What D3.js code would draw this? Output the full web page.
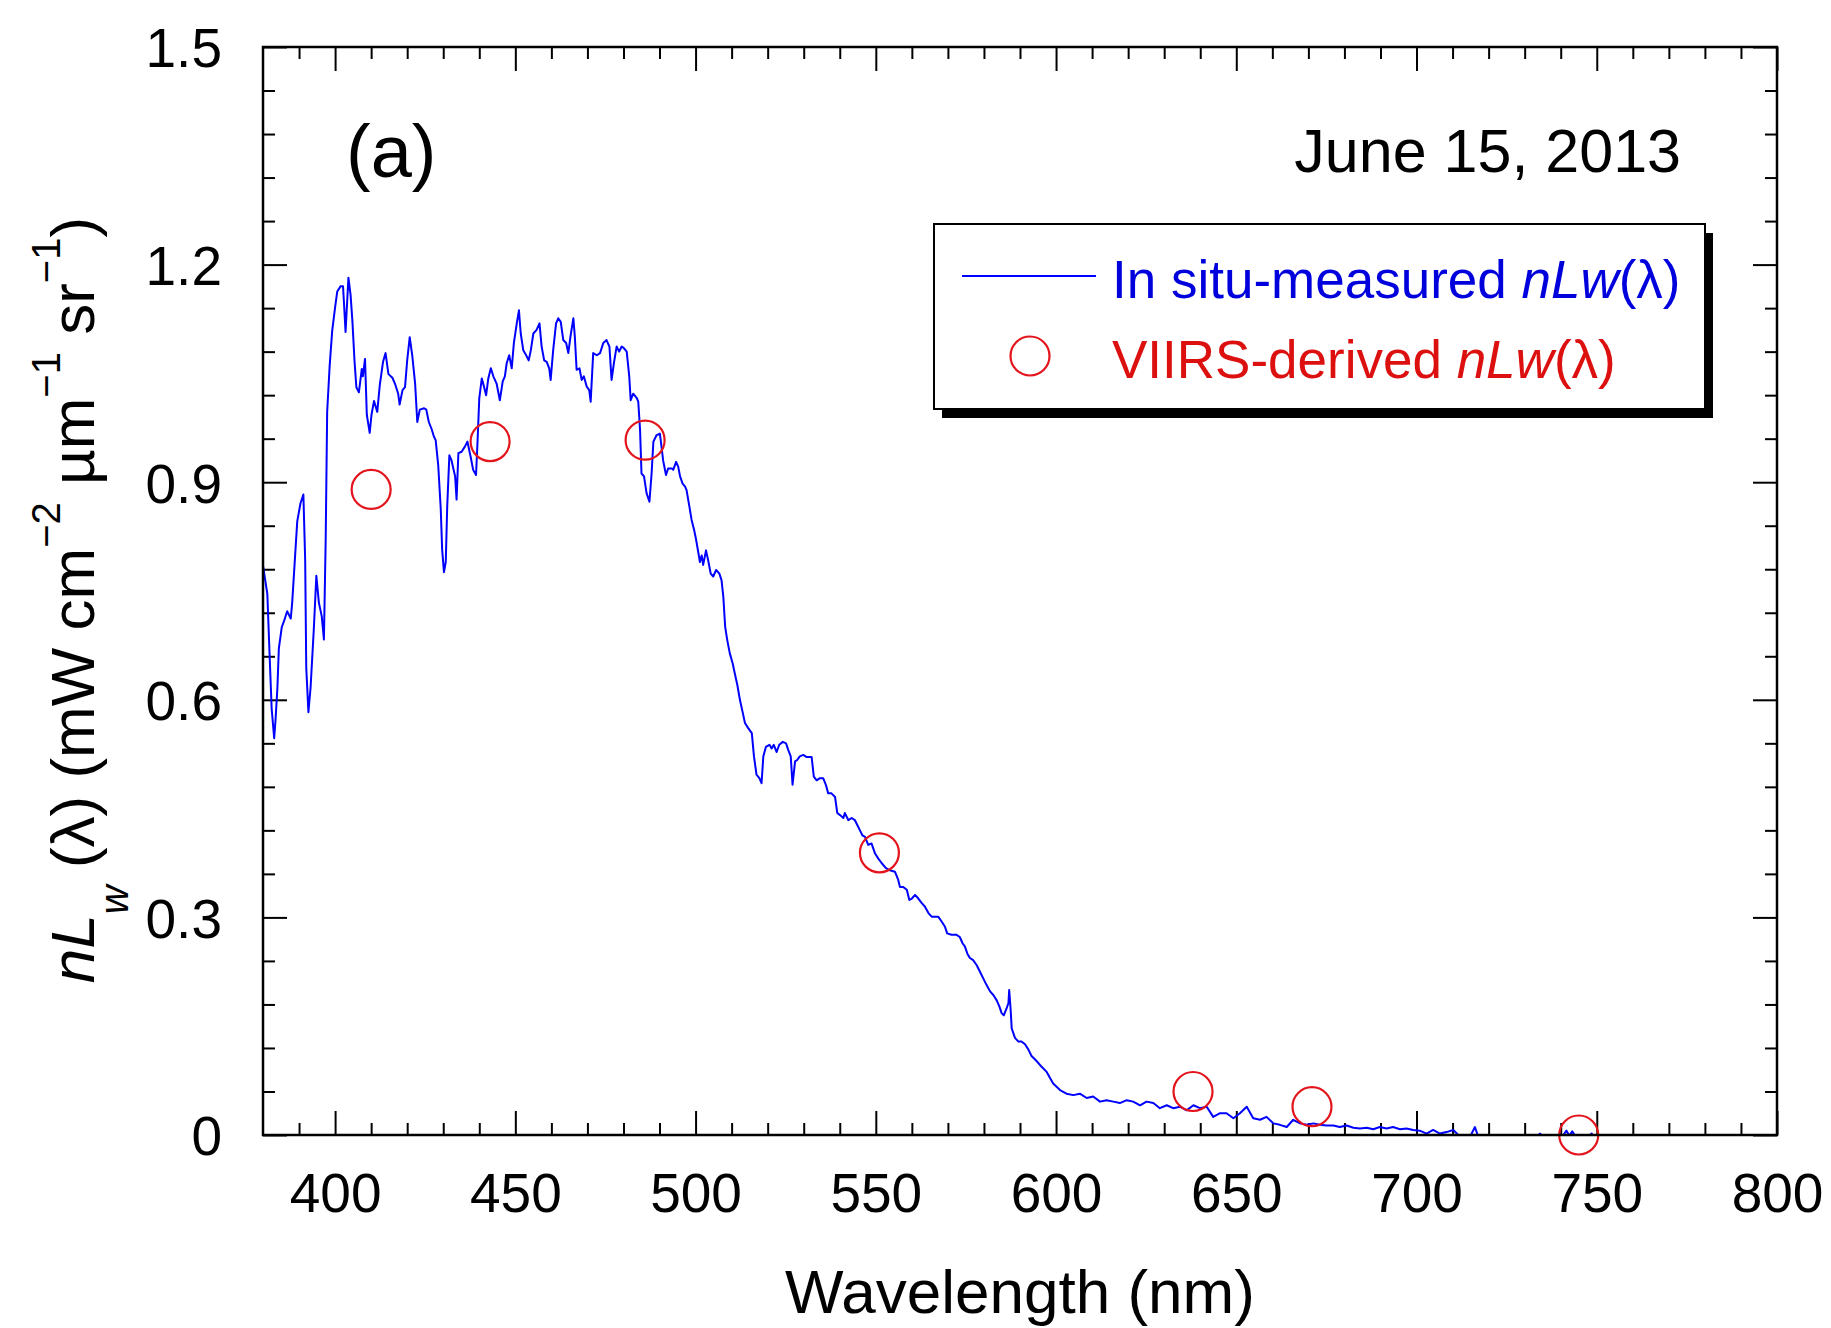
<!DOCTYPE html>
<meta charset="utf-8">
<script src="https://d3js.org/d3.v7.min.js"></script>
<style>
  body { margin: 0; background: #fff; }
  text { font-family: "Liberation Sans", Arial, Helvetica, sans-serif; }
</style>
<div id="chart"></div>
<script>

// in situ nLw spectrum (nm, mW cm-2 um-1 sr-1)
var wavelength = [
  380.0,381.2,381.8,382.4,383.1,383.5,384.0,384.4,385.2,385.8,386.7,387.7,388.1,388.9,389.5,390.4,
  391.2,391.7,392.0,392.6,393.2,394.1,394.8,395.5,396.3,396.9,397.4,397.8,398.5,399.2,400.0,400.6,
  401.5,402.2,402.5,402.9,403.7,404.3,404.8,405.4,405.9,406.6,407.4,407.7,408.3,408.8,409.6,410.1,
  410.8,411.7,412.4,413.3,414.0,414.8,415.9,416.6,417.5,417.9,418.7,419.4,420.0,420.7,421.4,422.2,
  422.8,423.5,424.7,425.3,426.0,426.8,427.4,427.9,428.6,429.3,429.7,430.2,430.7,431.1,431.7,432.3,
  433.3,433.7,434.2,435.1,436.0,436.7,437.6,438.3,439.1,439.5,440.0,440.7,441.3,441.9,442.5,443.2,
  443.9,444.8,445.7,446.5,447.1,447.6,448.3,449.0,449.6,450.4,451.0,451.5,452.2,453.0,453.7,454.3,
  455.0,455.9,456.7,457.3,458.0,458.7,459.4,459.8,460.5,461.3,461.9,462.6,463.3,464.1,464.7,465.3,
  466.1,466.5,467.0,467.8,468.4,469.0,469.8,470.5,470.9,471.6,472.6,473.5,474.4,475.3,476.1,476.7,
  477.4,478.1,478.8,479.5,480.1,480.9,481.6,482.0,482.7,483.7,484.1,484.6,485.0,485.7,486.4,487.2,
  487.8,488.3,489.2,490.1,490.6,491.0,491.8,492.4,493.4,493.8,494.6,495.2,495.7,496.4,497.1,497.5,
  498.3,498.9,499.6,500.1,500.8,501.2,501.7,502.1,502.9,503.5,504.2,504.9,505.7,506.6,507.2,507.7,
  508.2,508.8,509.5,510.3,510.9,511.6,512.3,513.1,513.7,514.6,515.6,516.2,516.9,517.7,518.3,518.8,
  519.5,520.5,521.1,521.7,522.5,523.2,524.2,525.1,525.7,526.4,526.9,527.6,528.2,528.9,529.9,530.8,
  532.2,532.8,533.6,534.5,535.4,536.2,536.8,537.7,538.7,539.3,540.1,541.0,541.4,542.4,543.3,544.2,
  544.9,545.6,546.3,547.0,547.9,548.8,549.8,550.7,551.6,552.8,553.9,555.3,556.2,556.7,557.6,558.6,
  559.3,560.0,560.9,561.8,562.7,563.6,564.6,565.5,566.4,567.3,568.3,569.2,569.8,571.0,572.4,573.3,
  574.1,574.7,575.4,576.1,577.0,578.0,578.9,579.8,580.7,581.7,582.6,583.5,584.3,584.9,585.5,586.3,
  586.8,587.0,587.4,587.7,588.6,589.5,590.4,591.4,592.3,593.2,594.6,596.0,597.4,599.2,601.1,602.9,
  604.8,606.6,608.5,610.3,612.2,614.0,615.9,617.7,619.6,621.4,623.3,625.1,627.0,628.8,630.7,632.5,
  634.4,636.2,638.1,639.9,641.8,643.6,645.5,647.3,649.2,651.0,652.9,654.7,656.6,658.4,660.3,662.1,
  664.0,665.8,667.7,669.5,671.4,673.2,675.0,676.9,678.7,680.6,682.5,684.3,686.2,688.0,689.8,691.7,
  693.5,695.4,697.2,699.1,700.9,702.8,704.6,706.5,708.3,710.2,712.0,714.8,716.2,717.1,719.5,722.0,
  725.0,728.0,731.0,733.6,734.3,735.0,738.0,740.6,741.6,742.4,743.2,744.2,746.5,748.6,749.5
];
var nlwInSitu = [
  0.785,0.746,0.666,0.588,0.547,0.574,0.617,0.671,0.700,0.708,0.722,0.712,0.734,0.798,0.846,0.871,
  0.883,0.793,0.644,0.583,0.617,0.698,0.771,0.734,0.715,0.683,0.824,0.997,1.061,1.109,1.141,1.163,
  1.170,1.170,1.144,1.107,1.182,1.158,1.122,1.066,1.031,1.024,1.056,1.046,1.070,0.993,0.968,0.993,
  1.012,0.997,1.034,1.066,1.078,1.049,1.044,1.036,1.022,1.007,1.027,1.031,1.068,1.100,1.075,1.036,
  0.983,1.000,1.002,1.000,0.983,0.973,0.963,0.958,0.924,0.864,0.807,0.776,0.790,0.866,0.937,0.930,
  0.908,0.876,0.940,0.942,0.949,0.956,0.935,0.917,0.910,0.954,1.016,1.043,1.032,1.020,1.043,1.057,
  1.046,1.036,1.013,1.039,1.046,1.064,1.075,1.057,1.092,1.119,1.137,1.105,1.082,1.075,1.068,1.082,
  1.105,1.110,1.119,1.087,1.068,1.066,1.057,1.041,1.082,1.119,1.126,1.121,1.096,1.092,1.078,1.101,
  1.126,1.101,1.055,1.057,1.041,1.046,1.032,1.027,1.011,1.078,1.075,1.078,1.092,1.096,1.087,1.041,
  1.066,1.087,1.080,1.087,1.085,1.080,1.046,1.013,1.022,1.016,1.011,0.972,0.912,0.908,0.885,0.873,
  0.912,0.956,0.965,0.967,0.947,0.930,0.910,0.919,0.919,0.917,0.928,0.921,0.908,0.898,0.894,0.889,
  0.866,0.848,0.834,0.822,0.802,0.790,0.799,0.786,0.806,0.792,0.774,0.770,0.779,0.774,0.765,0.742,
  0.701,0.682,0.664,0.650,0.636,0.620,0.600,0.582,0.568,0.561,0.554,0.522,0.497,0.492,0.485,0.522,
  0.535,0.538,0.533,0.538,0.528,0.538,0.542,0.540,0.531,0.522,0.483,0.515,0.517,0.522,0.524,0.521,
  0.521,0.494,0.489,0.492,0.492,0.482,0.471,0.471,0.466,0.444,0.441,0.437,0.444,0.434,0.437,0.434,
  0.427,0.420,0.413,0.411,0.400,0.402,0.388,0.381,0.375,0.368,0.365,0.363,0.352,0.342,0.342,0.338,
  0.324,0.326,0.331,0.326,0.320,0.315,0.306,0.301,0.301,0.301,0.294,0.287,0.278,0.276,0.276,0.273,
  0.264,0.260,0.250,0.244,0.241,0.234,0.225,0.216,0.207,0.198,0.193,0.186,0.177,0.168,0.165,0.175,
  0.182,0.200,0.173,0.147,0.134,0.129,0.129,0.125,0.118,0.109,0.102,0.094,0.087,0.071,0.062,0.057,
  0.055,0.057,0.051,0.053,0.046,0.048,0.046,0.044,0.048,0.046,0.041,0.046,0.044,0.037,0.041,0.037,
  0.039,0.034,0.041,0.037,0.039,0.025,0.030,0.030,0.023,0.030,0.039,0.023,0.021,0.025,0.016,0.014,
  0.011,0.021,0.016,0.014,0.016,0.014,0.013,0.013,0.011,0.013,0.010,0.009,0.010,0.008,0.011,0.009,
  0.011,0.008,0.009,0.007,0.006,0.002,0.007,0.002,0.004,0.007,-0.002,-0.003,0.011,-0.002,-0.006,-0.004,
  -0.007,-0.005,-0.006,-0.001,0.002,-0.003,-0.006,-0.001,0.006,-0.001,0.005,-0.003,-0.008,0.002,-0.006
];

// VIIRS-derived nLw at the band centres
var viirsBand = [410, 443, 486, 551, 638, 671, 745];
var viirsNlw  = [0.890, 0.956, 0.958, 0.389, 0.060, 0.039, 0.000];

// axis ticks
var xMajor = [400, 450, 500, 550, 600, 650, 700, 750, 800];
var xMinor = [390, 410, 420, 430, 440, 460, 470, 480, 490, 510, 520, 530, 540, 560, 570, 580, 590,
              610, 620, 630, 640, 660, 670, 680, 690, 710, 720, 730, 740, 760, 770, 780, 790];
var yMajor = [0, 0.3, 0.6, 0.9, 1.2, 1.5];
var yMinor = [0.06, 0.12, 0.18, 0.24, 0.36, 0.42, 0.48, 0.54, 0.66, 0.72, 0.78, 0.84,
              0.96, 1.02, 1.08, 1.14, 1.26, 1.32, 1.38, 1.44];

var blue = "#0000ff", red = "#e3141b";
var font = '"Liberation Sans", Arial, Helvetica, sans-serif';

var margin = {top: 47, right: 54, bottom: 193, left: 263},
    width = 1831 - margin.left - margin.right,
    height = 1328 - margin.top - margin.bottom;

var root = d3.select("#chart")
  .append("svg")
    .attr("width", 1831)
    .attr("height", 1328)
    .style("display", "block");

var svg = root.append("g")
    .attr("transform", "translate(" + margin.left + "," + margin.top + ")");

var x = d3.scaleLinear().domain([380, 800]).range([0, width]);
var y = d3.scaleLinear().domain([0, 1.5]).range([height, 0]);

// axes: inward ticks on all four sides
function styleAxis(g) {
  g.select(".domain").remove();
  g.selectAll(".tick line").attr("stroke", "#000").attr("stroke-width", 2);
  g.attr("font-family", font).attr("font-size", 55);
  g.selectAll(".tick text").attr("fill", "#000");
}

svg.append("g")
    .attr("transform", "translate(0," + height + ")")
    .call(d3.axisBottom(x).tickValues(xMajor).tickSize(-24).tickFormat(d3.format("d")))
    .call(styleAxis)
    .selectAll(".tick text").attr("y", 77).attr("dy", 0);
svg.append("g")
    .attr("transform", "translate(0," + height + ")")
    .call(d3.axisBottom(x).tickValues(xMinor).tickSize(-12).tickFormat(""))
    .call(styleAxis);
svg.append("g")
    .call(d3.axisTop(x).tickValues(xMajor).tickSize(-24).tickFormat(""))
    .call(styleAxis);
svg.append("g")
    .call(d3.axisTop(x).tickValues(xMinor).tickSize(-12).tickFormat(""))
    .call(styleAxis);

svg.append("g")
    .call(d3.axisLeft(y).tickValues(yMajor).tickSize(-24)
      .tickFormat(function(d) { return d === 0 ? "0" : d.toFixed(1); }))
    .call(styleAxis)
    .selectAll(".tick text").attr("x", -41).attr("dy", "0.36em");
svg.append("g")
    .call(d3.axisLeft(y).tickValues(yMinor).tickSize(-12).tickFormat(""))
    .call(styleAxis);
svg.append("g")
    .attr("transform", "translate(" + width + ",0)")
    .call(d3.axisRight(y).tickValues(yMajor).tickSize(-24).tickFormat(""))
    .call(styleAxis);
svg.append("g")
    .attr("transform", "translate(" + width + ",0)")
    .call(d3.axisRight(y).tickValues(yMinor).tickSize(-12).tickFormat(""))
    .call(styleAxis);

// clip for the spectrum (it dips just below zero at the red end)
svg.append("clipPath").attr("id", "plotclip")
  .append("rect").attr("width", width).attr("height", height);

var spectrum = wavelength.map(function(w, i) { return [w, nlwInSitu[i]]; });

svg.append("path")
    .datum(spectrum)
    .attr("clip-path", "url(#plotclip)")
    .attr("fill", "none")
    .attr("stroke", blue)
    .attr("stroke-width", 2)
    .attr("stroke-linejoin", "round")
    .attr("d", d3.line()
      .x(function(d) { return x(d[0]); })
      .y(function(d) { return y(d[1]); }));

svg.selectAll("circle.viirs")
  .data(viirsBand)
  .enter()
  .append("circle")
    .attr("class", "viirs")
    .attr("cx", function(d) { return x(d); })
    .attr("cy", function(d, i) { return y(viirsNlw[i]); })
    .attr("r", 19.5)
    .attr("fill", "none")
    .attr("stroke", red)
    .attr("stroke-width", 2.2);

// frame
svg.append("rect")
    .attr("width", width)
    .attr("height", height)
    .attr("fill", "none")
    .attr("stroke", "#000")
    .attr("stroke-width", 2.5);

// panel label and date
root.append("text")
    .attr("x", 346).attr("y", 177)
    .attr("font-size", 74)
    .text("(a)");
root.append("text")
    .attr("x", 1681).attr("y", 172)
    .attr("text-anchor", "end")
    .attr("font-size", 61)
    .text("June 15, 2013");

// legend with drop shadow
var lg = root.append("g");
lg.append("rect")
    .attr("x", 942).attr("y", 233).attr("width", 771).attr("height", 185)
    .attr("fill", "#000");
lg.append("rect")
    .attr("x", 934).attr("y", 224).attr("width", 771).attr("height", 185)
    .attr("fill", "#fff").attr("stroke", "#000").attr("stroke-width", 2);
lg.append("line")
    .attr("x1", 962).attr("x2", 1096).attr("y1", 276).attr("y2", 276)
    .attr("stroke", blue).attr("stroke-width", 2);
lg.append("circle")
    .attr("cx", 1030).attr("cy", 356).attr("r", 19.5)
    .attr("fill", "none").attr("stroke", red).attr("stroke-width", 2.2);

function legendText(px, py, color, label) {
  var t = lg.append("text")
      .attr("x", px).attr("y", py)
      .attr("font-size", 53)
      .attr("fill", color)
      .style("white-space", "pre");
  t.append("tspan").text(label + " ");
  t.append("tspan").attr("font-style", "italic").text("nLw");
  t.append("tspan").text("(λ)");
}
legendText(1112, 298, "#0000dd", "In situ-measured");
legendText(1112, 378, "#dd1010", "VIIRS-derived");

// axis titles
root.append("text")
    .attr("x", margin.left + width / 2).attr("y", 1313)
    .attr("text-anchor", "middle")
    .attr("font-size", 62)
    .text("Wavelength (nm)");

var yt = root.append("text")
    .attr("transform", "translate(94,600) rotate(-90)")
    .attr("text-anchor", "middle")
    .attr("font-size", 62)
    .style("white-space", "pre");
yt.append("tspan").attr("font-style", "italic").text("nL");
yt.append("tspan").attr("font-style", "italic").attr("font-size", 40).attr("dy", 34).text("w");
yt.append("tspan").attr("dy", -34).text(" (λ) (mW cm");
yt.append("tspan").attr("font-size", 40).attr("dy", -34).text("−2");
yt.append("tspan").attr("dy", 34).text(" µm");
yt.append("tspan").attr("font-size", 40).attr("dy", -34).text("−1");
yt.append("tspan").attr("dy", 34).text(" sr");
yt.append("tspan").attr("font-size", 40).attr("dy", -34).text("−1");
yt.append("tspan").attr("dy", 34).text(")");

</script>
